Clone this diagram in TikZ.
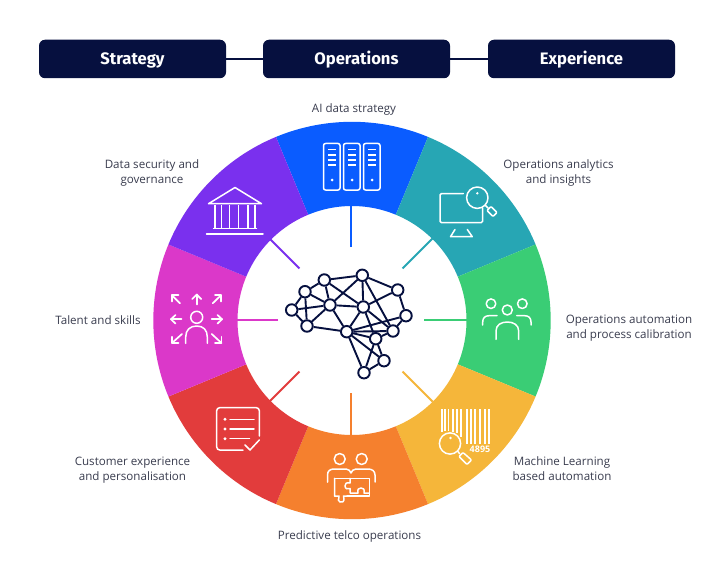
\documentclass[tikz,border=0pt]{standalone}
\usepackage{fontspec}
\setmainfont{Open Sans}
\newfontfamily\headfont{Fira Sans}
\definecolor{navy}{HTML}{06103F}
\definecolor{txt}{HTML}{3A3D4F}
\definecolor{cblue}{HTML}{0A5CFF}
\definecolor{cteal}{HTML}{27A6B4}
\definecolor{cgreen}{HTML}{3ACD75}
\definecolor{cyellow}{HTML}{F5B63A}
\definecolor{corange}{HTML}{F5802E}
\definecolor{cred}{HTML}{E23C3C}
\definecolor{cmag}{HTML}{DB38C9}
\definecolor{cpurp}{HTML}{7A30EE}
\tikzset{
 headbox/.style={fill=navy,rounded corners=6pt,minimum width=187pt,minimum height=38.5pt,text=white,font=\headfont\bfseries\fontsize{16.6}{18}\selectfont,inner sep=0pt,text height=14pt,text depth=2pt},
 link/.style={draw=navy,line width=1.8pt},
 lab/.style={text=txt,font=\fontsize{11.6}{15}\selectfont,align=center,inner sep=0pt},
 ico/.style={draw=white,line width=1.5pt,line cap=round,line join=round},
 brainedge/.style={draw=navy,line width=1.9pt},
 bn/.style={circle,draw=navy,fill=white,line width=1.9pt,minimum size=11.5pt,inner sep=0pt},
 spoke/.style={line width=1.8pt}
}
\newcommand{\wedgeseg}[3]{%
 \fill[#3] plot[domain=#1:#2,samples=40] ({352+198.7*cos(\x)},{320.5-198.7*sin(\x)})
   -- plot[domain=#2:#1,samples=40] ({352+114.5*cos(\x)},{320.5-114.5*sin(\x)}) -- cycle;}
\newcommand{\spokeline}[3]{%
 \coordinate (s#1a) at ({351+73*cos(#2)},{320-73*sin(#2)});
 \coordinate (s#1b) at ({351+115.5*cos(#2)},{320-115.5*sin(#2)});
 \draw[spoke,draw=#3] (s#1a) -- (s#1b);}
\begin{document}
\begin{tikzpicture}[x=1pt,y=-1pt]
\useasboundingbox (0,0) rectangle (720,567);
\fill[white] (0,0) rectangle (720,567);
% header
\node[headbox] (hs) at (132.5,59) {Strategy};
\node[headbox] (ho) at (356.5,59) {Operations};
\node[headbox] (he) at (581.5,59) {Experience};
\draw[link] (hs) -- (ho);
\draw[link] (ho) -- (he);
% ring
\wedgeseg{67.5}{112.5}{cblue}
\wedgeseg{22.5}{67.5}{cteal}
\wedgeseg{-22.5}{22.5}{cgreen}
\wedgeseg{-67.5}{-22.5}{cyellow}
\wedgeseg{-112.5}{-67.5}{corange}
\wedgeseg{-157.5}{-112.5}{cred}
\wedgeseg{157.5}{202.5}{cmag}
\wedgeseg{112.5}{157.5}{cpurp}
% spokes
\spokeline{1}{90}{cblue}
\spokeline{2}{45}{cteal}
\spokeline{3}{0}{cgreen}
\spokeline{4}{-45}{cyellow}
\spokeline{5}{-90}{corange}
\spokeline{6}{-135}{cred}
\spokeline{7}{180}{cmag}
\spokeline{8}{135}{cpurp}
% labels
\node[lab] (l1) at (354,109.5) {AI data strategy};
\node[lab] (l2) at (558.5,172.5) {Operations analytics\\and insights};
\node[lab] (l3) at (629,328.5) {Operations automation\\and process calibration};
\node[lab] (l4) at (562,468.5) {Machine Learning\\based automation};
\node[lab] (l5) at (349.5,536.5) {Predictive telco operations};
\node[lab] (l6) at (132.5,470.5) {Customer experience\\and personalisation};
\node[lab] (l7) at (98,320.5) {Talent and skills};
\node[lab] (l8) at (152,172.5) {Data security and\\governance};
% server icon
\foreach \o in {0,20,40}{
 \begin{scope}[xshift=\o pt]
 \draw[ico,rounded corners=2pt] (323.5,143.5) rectangle (340,190);
 \foreach \yy in {149.5,155,160,165}{\draw[ico,line cap=butt,line width=1.7pt] (328,\yy) -- (336,\yy);}
 \fill[white] (332,180) circle (1.5);
 \end{scope}}
% monitor + magnifier
\draw[ico,rounded corners=1.5pt] (463.3,193.5) -- (440,193.5) -- (440,222.7) -- (482.7,222.7) -- (482.7,208);
\draw[ico] (455,229.5) -- (450.5,236.7) -- (472.3,236.7) -- (467.3,229.5);
\draw[ico] (477.3,197.7) circle (10.7);
\fill[white] (477.3,193.3) circle (1.3);
\draw[ico] (485.5,205.5) -- (488,208);
\draw[ico,rounded corners=1pt] (487,210.5) -- (491,206.5) -- (497,212.5) -- (493,216.5) -- cycle;
% people
\draw[ico] (491,303.7) circle (4.8);
\draw[ico] (522.3,303.7) circle (4.8);
\draw[ico] (507.3,310) circle (5);
\draw[ico] (496,339.3) -- (496,331) .. controls (496,325) and (501,322) .. (507.3,322) .. controls (513.6,322) and (518.7,325) .. (518.7,331) -- (518.7,339.3);
\draw[ico] (482.7,325) -- (482.7,322) .. controls (482.7,318) and (485,315.7) .. (489,315.7) -- (497,315.7);
\draw[ico] (531,325) -- (531,322) .. controls (531,318) and (528.7,315.7) .. (524.7,315.7) -- (516.7,315.7);
% barcode
\foreach \xx/\yy in {441.7/432,445/431,448.5/431,452.7/432,456.7/433,460.7/437,467.3/444,470.7/444,475/444,480/444,485/444,489.3/444}{
 \fill[white] ({\xx-0.85},408.5) rectangle ({\xx+0.85},\yy);}
\node[text=white,inner sep=0pt,font=\bfseries\fontsize{9}{10}\selectfont] (bc) at (480,449.5) {4895};
\draw[ico] (450,443.5) circle (10.6);
\fill[white] (450.5,438) circle (1.3);
\draw[ico] (457.8,451.3) -- (459.5,453.5);
\draw[ico,rounded corners=1pt] (459,456.5) -- (463,452.5) -- (471.5,460) -- (467,464.5) -- cycle;
% puzzle people
\draw[ico] (339.7,459) circle (5.5);
\draw[ico] (361.7,459) circle (5.5);
\draw[ico] (327.5,482) -- (327.5,475) .. controls (327.5,471) and (330,469) .. (334,469) -- (346,469) .. controls (349,469) and (350,471) .. (351,473) .. controls (352,471) and (353,469) .. (356,469) -- (368,469) .. controls (372,469) and (375,471) .. (375,475) -- (375,482);
\draw[ico] (334.5,478.3) -- (369.3,478.3) -- (369.3,496) -- (347,496);
\draw[ico] (334.5,478.3) -- (334.5,496) -- (339,496) .. controls (339,500) and (337,501) .. (340,502) .. controls (345,503) and (344,499) .. (343.5,496) -- (347,496);
\draw[ico] (350,478.3) -- (350,483) .. controls (346,482) and (345,484) .. (345,486) .. controls (345,489) and (348,489.5) .. (350,488.5) -- (350,493) -- (358,493) .. controls (357,489) and (359,488) .. (361,488) .. controls (363,488) and (365,489) .. (364,493) -- (369.3,493);
% temple
\draw[ico] (208.5,203.7) -- (235,187.5) -- (261.5,203.7) -- cycle;
\foreach \xx in {215,221.5,229.5,238.5,248,255}{\draw[ico,line cap=butt] (\xx,205) -- (\xx,228);}
\draw[ico] (213.5,228.3) -- (256.5,228.3);
\draw[ico] (206.5,234) -- (263,234);
% talent
\draw[ico] (196.7,317.3) circle (6);
\draw[ico] (185.7,343.3) -- (185.7,337) .. controls (185.7,330) and (190,326) .. (196.7,326) .. controls (203.4,326) and (207.3,330) .. (207.3,337) -- (207.3,343.3);
\foreach \ax/\ay/\bx/\by in {196.7/304.5/196.7/294.5, 180/303.3/172/295.3, 212.7/303.3/221/295.3, 181.5/319.3/171/319.3, 211.7/319.3/222/319.3, 182/334/172/343, 211.7/334/221.5/343}{
 \draw[ico,line width=1.7pt] (\ax,\ay) -- (\bx,\by);
}
\draw[ico,line width=1.7pt] (192.2,299) -- (196.7,294.5) -- (201.2,299);
\draw[ico,line width=1.7pt] (172,301.5) -- (172,295.3) -- (178.5,295.3);
\draw[ico,line width=1.7pt] (215,295.3) -- (221,295.3) -- (221,301.5);
\draw[ico,line width=1.7pt] (175.5,315) -- (171,319.3) -- (175.5,323.6);
\draw[ico,line width=1.7pt] (217.5,315) -- (222,319.3) -- (217.5,323.6);
\draw[ico,line width=1.7pt] (172,336.8) -- (172,343) -- (178.5,343);
\draw[ico,line width=1.7pt] (221.5,336.8) -- (221.5,343) -- (215,343);
% checklist
\draw[ico,rounded corners=3pt] (259.3,436) -- (259.3,407.7) -- (216.7,407.7) -- (216.7,450) -- (243,450);
\foreach \yy/\e in {419.3/254,429/254,438.7/249.5}{
 \fill[white] (225,\yy) circle (1.6);
 \draw[ico] (230,\yy) -- (\e,\yy);}
\draw[ico] (245,445) -- (250,450) -- (259.3,440);
% brain
\node[bn] (a) at (291.7,310) {};
\node[bn] (b) at (305,291.7) {};
\node[bn] (c) at (324.3,280) {};
\node[bn] (d) at (362.3,275.3) {};
\node[bn] (e) at (397.7,290) {};
\node[bn] (f) at (406,315.7) {};
\node[bn] (g) at (393,331) {};
\node[bn] (h) at (375.7,338.7) {};
\node[bn] (i) at (384,360.7) {};
\node[bn] (j) at (364,372.7) {};
\node[bn] (k) at (346.7,331.7) {};
\node[bn] (l) at (307,326) {};
\node[bn] (m) at (330,305) {};
\node[bn] (n) at (363.3,307) {};
\foreach \p/\q in {a/b,a/l,a/m,b/c,b/m,b/l,c/d,c/m,c/n,d/m,d/n,d/e,d/g,e/n,e/f,f/g,f/k,g/n,g/k,l/m,l/k,m/k,m/n,n/k,n/h,h/k,h/g,h/j,h/i,k/i,k/j,i/j}{
 \draw[brainedge] (\p) -- (\q);}
\end{tikzpicture}
\end{document}
